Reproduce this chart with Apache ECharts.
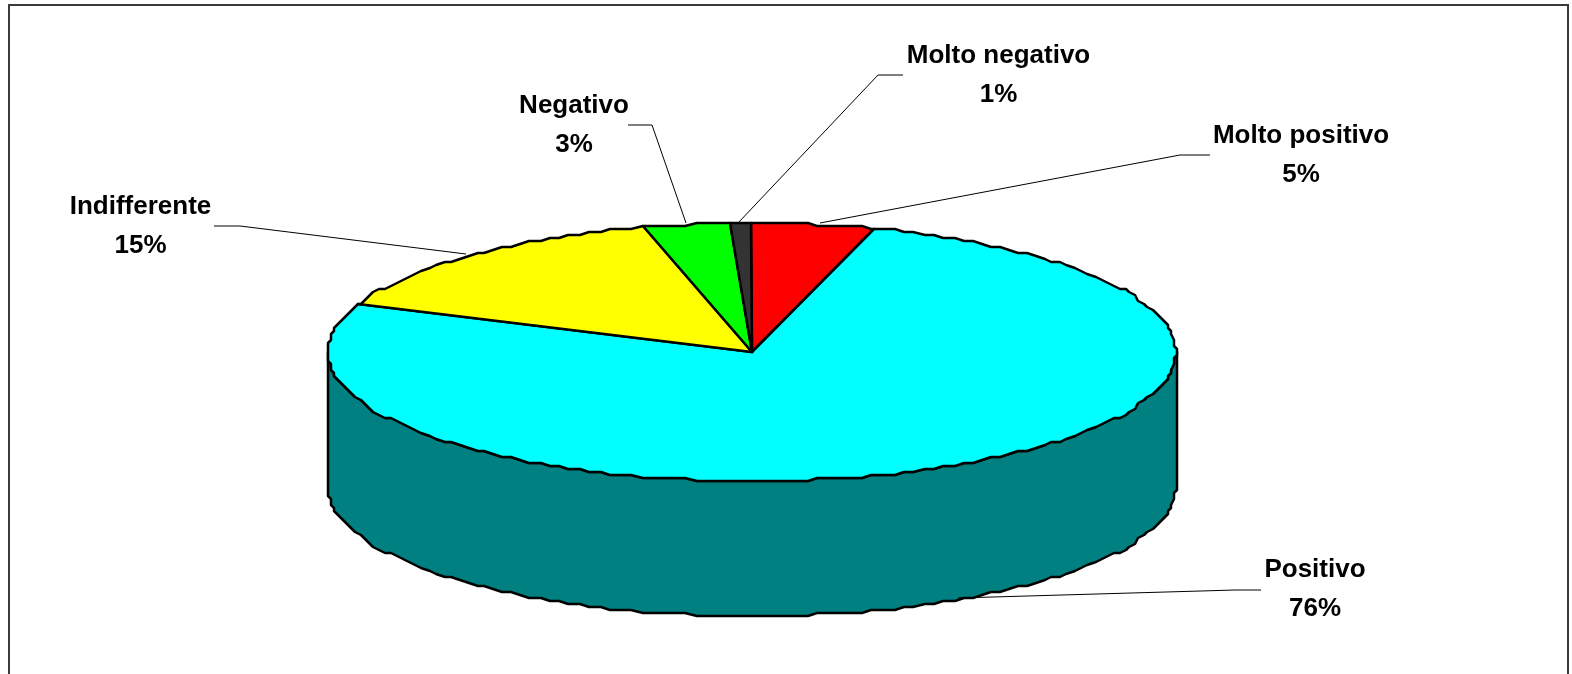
<!DOCTYPE html>
<html><head><meta charset="utf-8">
<style>html,body{margin:0;padding:0;background:#fff}#c{width:1572px;height:674px}</style>
<script src="https://cdn.jsdelivr.net/npm/echarts@6/dist/echarts.min.js"></script>
</head><body><div id="c"></div>
<script>
// Data, clockwise from 12 o'clock
const names = ['Molto positivo', 'Positivo', 'Indifferente', 'Negativo', 'Molto negativo'];
const values = [4.7, 76.4, 14.8, 3.3, 0.8];
const colors = ['#ff0000', '#00ffff', '#ffff00', '#00ff00', '#333333'];
const sideColors = ['#800000', '#008080', '#808000', '#008000', '#1a1a1a'];

// Layout, kept apart from the data
const CX = 752, CY = 352, RX = 424, RY = 129, DEPTH = 135, SNAP = 3, STEP = 1.5;
const labelCenters = [[1301, 155], [1315, 589], [140.5, 226], [574, 125], [998.5, 75]];
const leaders = [
  [[1210, 155], [1180, 155], [820, 223]],
  [[1261, 590], [1235, 590], [958, 598]],
  [[214, 226], [240, 226], [466, 254]],
  [[628, 125], [652, 125], [686, 223]],
  [[903, 75], [878, 75], [738, 223]]
];

const total = values.reduce((a, b) => a + b, 0);
const starts = []; values.reduce((acc, v, i) => (starts[i] = acc, acc + v), 0);
const toDeg = v => v / total * 360;
const snap = v => Math.round((v - 1) / SNAP) * SNAP + 1;
function rim(deg, dy) {
  const r = deg * Math.PI / 180;
  return [snap(CX + RX * Math.sin(r)), snap(CY - RY * Math.cos(r)) + (dy || 0)];
}
function arc(a0, a1, dy) {
  const pts = [rim(a0, dy)];
  for (let a = Math.ceil(a0 / STEP) * STEP; a < a1; a += STEP) if (a > a0) pts.push(rim(a, dy));
  pts.push(rim(a1, dy));
  return pts;
}
const edgeStyle = { stroke: '#000', lineWidth: 2.5, lineJoin: 'round' };

const option = {
  animation: false,
  backgroundColor: '#fff',
  graphic: [{
    type: 'rect', silent: true, z: 0,
    shape: { x: 9, y: 5, width: 1559, height: 700 },
    style: { fill: '#fff', stroke: '#3a3a3a', lineWidth: 2 }
  }],
  series: [
    { // front wall
      type: 'custom', coordinateSystem: 'none', silent: true, z: 2,
      data: values,
      renderItem(p, api) {
        const a0 = Math.max(toDeg(starts[p.dataIndex]), 90);
        const a1 = Math.min(toDeg(starts[p.dataIndex] + api.value(0)), 270);
        if (a1 <= a0) return { type: 'group', children: [] };
        const pts = arc(a0, a1, 0).concat(arc(a0, a1, DEPTH).reverse());
        return { type: 'polygon', shape: { points: pts },
          style: Object.assign({ fill: sideColors[p.dataIndex] }, edgeStyle) };
      }
    },
    { // top face
      type: 'custom', coordinateSystem: 'none', silent: true, z: 3,
      data: values,
      renderItem(p, api) {
        const a0 = toDeg(starts[p.dataIndex]);
        const a1 = a0 + toDeg(api.value(0));
        return { type: 'polygon', shape: { points: [[CX, CY]].concat(arc(a0, a1, 0)) },
          style: Object.assign({ fill: colors[p.dataIndex] }, edgeStyle) };
      }
    },
    { // labels and leader lines
      type: 'custom', coordinateSystem: 'none', silent: true, z: 4,
      data: values,
      renderItem(p, api) {
        const i = p.dataIndex, c = labelCenters[i];
        return { type: 'group', children: [
          { type: 'polyline', shape: { points: leaders[i] },
            style: { fill: 'none', stroke: '#000', lineWidth: 1 } },
          { type: 'text', x: c[0], y: c[1],
            style: { text: names[i] + '\n' + Math.round(api.value(0)) + '%', fill: '#000',
              font: 'bold 26px "Liberation Sans", Arial, sans-serif',
              lineHeight: 39, align: 'center', verticalAlign: 'middle' } }
        ] };
      }
    }
  ]
};
echarts.init(document.getElementById('c')).setOption(option);
</script></body></html>
